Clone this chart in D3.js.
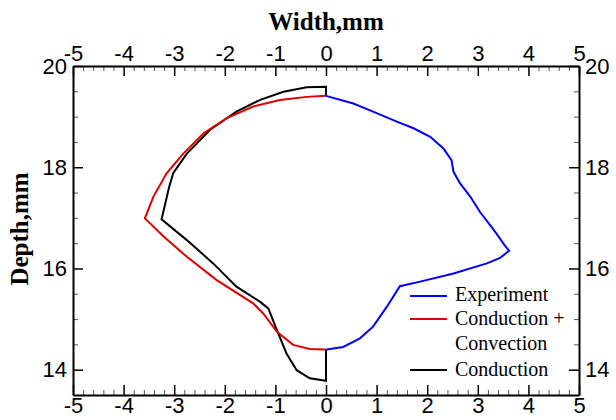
<!DOCTYPE html>
<html>
<head>
<meta charset="utf-8">
<script src="https://cdn.jsdelivr.net/npm/d3@7"></script>
<style>
html,body{margin:0;padding:0;background:#fff;}
svg{display:block;}
.major .tick text{font-family:"Liberation Sans",Arial,sans-serif;font-size:22px;fill:#000;}
</style>
</head>
<body>
<svg id="chart" width="616" height="420"></svg>
<script>
// ---- data ----
const xTicks = [-5,-4,-3,-2,-1,0,1,2,3,4,5];
const yTicks = [14,16,18,20];
const seriesNames = ["Experiment","Conduction +\nConvection","Conduction"];
const seriesColors = ["#0000ff","#e00000","#000000"];

const experimentX = [0,0.54,0.93,1.40,1.73,2.06,2.32,2.48,2.52,2.65,2.85,3.04,3.27,3.44,3.52,3.62,3.44,3.18,2.52,1.86,1.46,1.20,0.93,0.67,0.34,0.01];
const experimentY = [19.41,19.26,19.10,18.90,18.77,18.60,18.37,18.14,17.91,17.68,17.42,17.12,16.82,16.59,16.47,16.35,16.21,16.10,15.90,15.74,15.65,15.24,14.85,14.62,14.45,14.40];

const convectionX = [0,-0.38,-0.91,-1.44,-1.96,-2.42,-2.82,-3.15,-3.41,-3.58,-3.21,-2.75,-2.16,-1.44,-1.24,-0.97,-0.65,-0.32,0];
const convectionY = [19.41,19.39,19.33,19.20,18.97,18.67,18.27,17.88,17.42,16.99,16.63,16.23,15.77,15.31,15.11,14.75,14.49,14.41,14.40];

const conductionX = [0,0,-0.38,-0.84,-1.30,-1.77,-2.29,-2.75,-3.02,-3.10,-3.25,-2.75,-2.23,-1.77,-1.30,-1.14,-0.97,-0.78,-0.58,-0.32,0,0];
const conductionY = [19.41,19.59,19.58,19.49,19.33,19.10,18.74,18.27,17.88,17.61,16.97,16.56,16.10,15.64,15.34,15.21,14.78,14.32,13.99,13.83,13.78,14.40];

// ---- layout ----
const svg = d3.select("#chart");
const L = 73, R = 579, T = 66, B = 395;
const x = d3.scaleLinear().domain([-5,5]).range([L,R]);
const y = d3.scaleLinear().domain([13.5,20]).range([B,T]);

const xMinor = d3.range(-5,5.001,0.2).map(v=>+v.toFixed(1)).filter(v=>!xTicks.includes(v));
const yMinor = d3.range(13.5,20.001,0.5).filter(v=>!yTicks.includes(v));
const fmt = d => d<0 ? "-"+Math.abs(d) : String(d);

function styleAxis(g){
  g.attr("class","major").attr("font-family",null).attr("font-size",null);
  g.select(".domain").attr("stroke","#000").attr("stroke-width",2);
  g.selectAll(".tick line").attr("stroke","#000").attr("stroke-width",1.5);
}
function minorAxis(axisFn, scale, vals, tx, ty){
  const g = svg.append("g").attr("transform",`translate(${tx},${ty})`)
    .call(axisFn(scale).tickValues(vals).tickFormat(()=>"").tickSize(-5).tickSizeOuter(0));
  g.select(".domain").remove();
  g.selectAll(".tick text").remove();
  g.selectAll(".tick line").attr("stroke","#555").attr("stroke-width",1);
}
minorAxis(d3.axisBottom, x, xMinor, 0, B);
minorAxis(d3.axisTop, x, xMinor, 0, T);
minorAxis(d3.axisLeft, y, yMinor, L, 0);
minorAxis(d3.axisRight, y, yMinor, R, 0);

svg.append("g").attr("transform",`translate(0,${B})`)
  .call(d3.axisBottom(x).tickValues(xTicks).tickFormat(fmt).tickSize(-10).tickSizeOuter(0).tickPadding(2))
  .call(styleAxis);
svg.append("g").attr("transform",`translate(0,${T})`)
  .call(d3.axisTop(x).tickValues(xTicks).tickFormat(fmt).tickSize(-10).tickSizeOuter(0).tickPadding(5))
  .call(styleAxis);
svg.append("g").attr("transform",`translate(${L},0)`)
  .call(d3.axisLeft(y).tickValues(yTicks).tickFormat(fmt).tickSize(-10).tickSizeOuter(0).tickPadding(6))
  .call(styleAxis);
svg.append("g").attr("transform",`translate(${R},0)`)
  .call(d3.axisRight(y).tickValues(yTicks).tickFormat(fmt).tickSize(-10).tickSizeOuter(0).tickPadding(6))
  .call(styleAxis);

// ---- titles ----
svg.append("text").attr("x",326).attr("y",30).attr("text-anchor","middle")
  .attr("font-family","'Liberation Serif','Times New Roman',serif").attr("font-weight","bold").attr("font-size",25)
  .text("Width,mm");
svg.append("text").attr("transform","translate(28,229) rotate(-90)").attr("text-anchor","middle")
  .attr("font-family","'Liberation Serif','Times New Roman',serif").attr("font-weight","bold").attr("font-size",25)
  .text("Depth,mm");

// ---- curves ----
const line = d3.line().x(d=>x(d[0])).y(d=>y(d[1]));
const series = [
  d3.zip(experimentX, experimentY),
  d3.zip(convectionX, convectionY),
  d3.zip(conductionX, conductionY)
];
[2,1,0].forEach(i=>{
  svg.append("path").datum(series[i]).attr("d",line)
    .attr("fill","none").attr("stroke",seriesColors[i]).attr("stroke-width",2)
    .attr("stroke-linejoin","miter");
});

// ---- legend ----
const legendRows = [
  {lineY:296, lines:["Experiment"], base:[301]},
  {lineY:319, lines:["Conduction +","Convection"], base:[325,350]},
  {lineY:370, lines:["Conduction"], base:[376]}
];
const lg = svg.append("g");
legendRows.forEach((r,i)=>{
  lg.append("line").attr("x1",410).attr("x2",447).attr("y1",r.lineY).attr("y2",r.lineY)
    .attr("stroke",seriesColors[i]).attr("stroke-width",2);
  r.lines.forEach((t,j)=>{
    lg.append("text").attr("x",455).attr("y",r.base[j])
      .attr("font-family","'Liberation Serif','Times New Roman',serif").attr("font-size",20)
      .attr("fill","#000").text(t);
  });
});
</script>
</body>
</html>
